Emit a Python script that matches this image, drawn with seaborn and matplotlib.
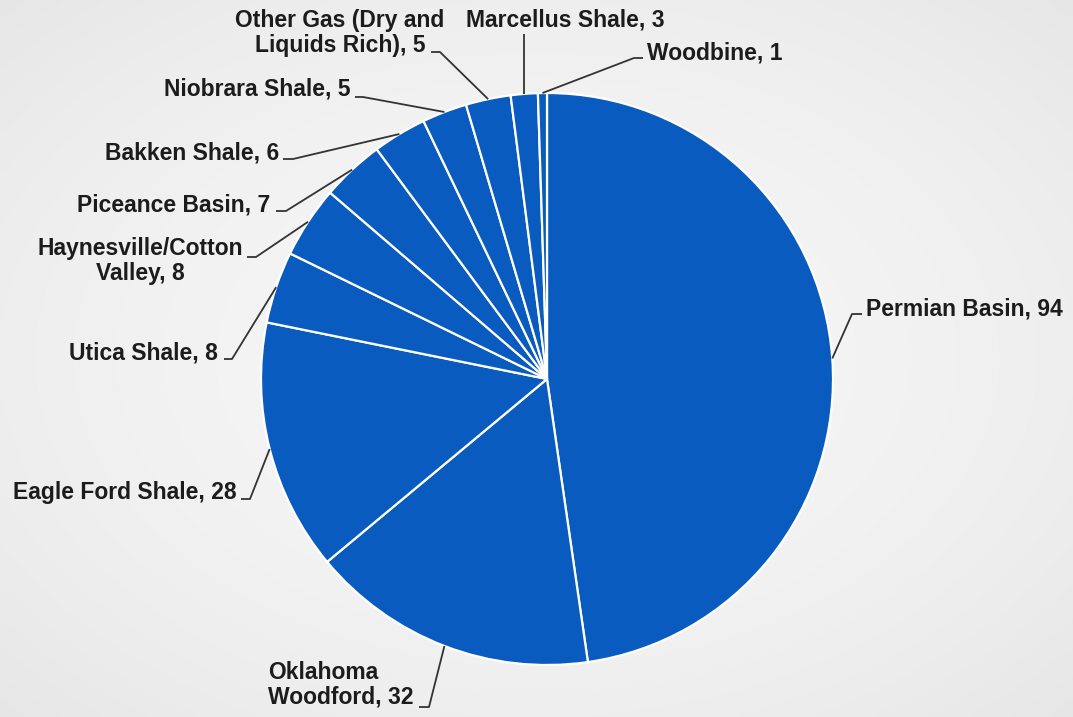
import numpy as np
import matplotlib
matplotlib.use("Agg")
import matplotlib.pyplot as plt
import seaborn as sns

# data
plays = ["Permian Basin", "Oklahoma\nWoodford", "Eagle Ford Shale", "Utica Shale",
         "Haynesville/Cotton\nValley", "Piceance Basin", "Bakken Shale", "Niobrara Shale",
         "Other Gas (Dry and\nLiquids Rich)", "Marcellus Shale", "Woodbine"]
counts = [94, 32, 28, 8, 8, 7, 6, 5, 5, 3, 1]

W, H = 1073, 717
BLUE = "#0a5bbf"

sns.set_style("white")
plt.rcParams["font.family"] = ["Liberation Sans", "DejaVu Sans"]

fig = plt.figure(figsize=(W / 100, H / 100), dpi=100)
ax = fig.add_axes([0, 0, 1, 1])

# light grey backdrop, a bit darker toward the corners
gx, gy = np.meshgrid(np.linspace(-1, 1, 200), np.linspace(-1, 1, 140))
shade = 0.96 - 0.06 * (gx ** 2 + gy ** 2) / 2
ax.imshow(shade, cmap="gray", vmin=0, vmax=1, extent=(0, W, 0, H), zorder=0,
          interpolation="bicubic")


def py(y):
    # pixel row -> data y
    return H - y


wedges, _ = ax.pie(counts, colors=[BLUE] * len(counts), startangle=90, counterclock=False,
                   center=(547, py(379)), radius=286, frame=True,
                   wedgeprops=dict(edgecolor="white", linewidth=1.6))
ax.set_xlim(0, W)
ax.set_ylim(0, H)
ax.set_aspect("equal")
ax.axis("off")

# label layout: text x, text y (px), ha, multialign, line end (px), elbow direction
layout = [
    (866, 309, "left", "left", (862, 314), -10),
    (414, 685, "right", "left", (419, 707), 10),
    (237, 492, "right", "left", (241, 499), 9),
    (218, 353, "right", "left", (224, 359), 8),
    (243, 261, "right", "center", (247, 257), 9),
    (270, 205, "right", "left", (276, 211), 10),
    (279, 153, "right", "left", (283, 159), 10),
    (350, 89, "right", "left", (355, 97), 8),
    (340, 33, "center", "center", (431, 52), 9),
    (565, 20, "center", "center", None, 0),
    (647, 53, "left", "left", (643, 58), -9),
]

for w, name, n, (tx, ty, ha, ma, end, dx) in zip(wedges, plays, counts, layout):
    mid = np.deg2rad((w.theta1 + w.theta2) / 2)
    ex = w.center[0] + w.r * np.cos(mid)
    ey = w.center[1] + w.r * np.sin(mid)
    if end is None:
        xs, ys = [ex, ex], [ey, py(34)]
    else:
        xs = [ex, end[0] + dx, end[0]]
        ys = [ey, py(end[1]), py(end[1])]
    ax.plot(xs, ys, color="#333333", lw=1.3, zorder=3, solid_capstyle="butt")
    ax.text(tx, py(ty), f"{name}, {n}", ha=ha, va="center", multialignment=ma,
            fontsize=16.5, fontweight="bold", color="#1c1c1c", linespacing=1.1)

fig.savefig("out.png", dpi=100)
